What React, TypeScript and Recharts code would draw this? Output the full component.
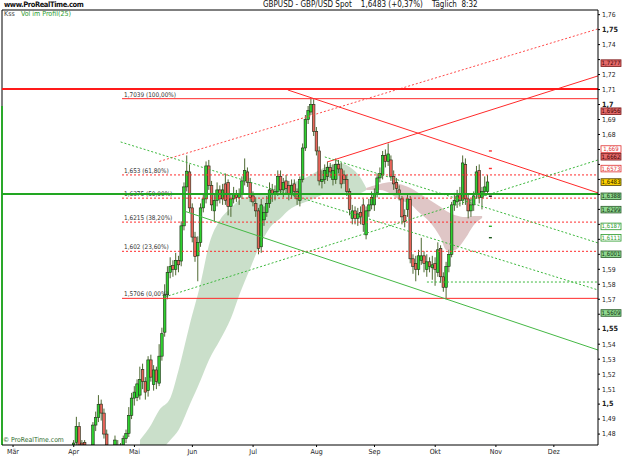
import React from 'react';
import { ComposedChart, Bar, Area, Scatter, XAxis, YAxis, ReferenceLine } from 'recharts';

const FONT = "'Liberation Sans Narrow', 'DejaVu Sans Condensed', 'Liberation Sans', Arial, sans-serif";

// x = trading day counted from Mon 2 Mar 2009, one candle per weekday
const firstDay = 22;
const open = [
  1.462, 1.4745, 1.485, 1.474, 1.4745, 1.46, 1.465, 1.468, 1.486, 1.491,
  1.5, 1.494, 1.48, 1.465, 1.46, 1.46, 1.47, 1.465, 1.47, 1.477,
  1.4805, 1.4925, 1.504, 1.5045, 1.506, 1.523, 1.515, 1.509, 1.5295, 1.513,
  1.5228, 1.514, 1.532, 1.548, 1.573, 1.588, 1.5925, 1.59, 1.596, 1.5955,
  1.619, 1.645, 1.655, 1.631, 1.6115, 1.599, 1.608, 1.631, 1.637, 1.659,
  1.646, 1.629, 1.636, 1.643, 1.637, 1.647, 1.648, 1.632, 1.637, 1.64,
  1.638, 1.64, 1.649, 1.655, 1.648, 1.639, 1.634, 1.629, 1.605, 1.623,
  1.628, 1.634, 1.643, 1.64, 1.642, 1.652, 1.643, 1.649, 1.646, 1.64,
  1.647, 1.642, 1.636, 1.65, 1.671, 1.69, 1.695, 1.7, 1.682, 1.669,
  1.6485, 1.65, 1.652, 1.658, 1.65, 1.65, 1.66, 1.657, 1.653, 1.65,
  1.642, 1.624, 1.629, 1.624, 1.628, 1.633, 1.613, 1.629, 1.633, 1.633,
  1.641, 1.651, 1.653, 1.666, 1.662, 1.663, 1.652, 1.648, 1.643, 1.637,
  1.626, 1.63, 1.6365, 1.597, 1.594, 1.59, 1.596, 1.599, 1.59, 1.595,
  1.591, 1.594, 1.588, 1.604, 1.585, 1.578, 1.592, 1.6, 1.633, 1.635,
  1.64, 1.636, 1.66, 1.637, 1.629, 1.633, 1.64, 1.656, 1.638, 1.642,
  1.642,
];
const high = [
  1.476, 1.4915, 1.488, 1.476, 1.476, 1.47, 1.472, 1.488, 1.495, 1.506,
  1.503, 1.497, 1.483, 1.47, 1.468, 1.479, 1.476, 1.474, 1.479, 1.483,
  1.498, 1.5075, 1.512, 1.5165, 1.525, 1.527, 1.518, 1.532, 1.533, 1.526,
  1.525, 1.54, 1.551, 1.58, 1.592, 1.598, 1.596, 1.601, 1.599, 1.622,
  1.648, 1.666, 1.66, 1.634, 1.615, 1.612, 1.634, 1.64, 1.662, 1.663,
  1.649, 1.64, 1.648, 1.646, 1.647, 1.654, 1.65, 1.64, 1.645, 1.643,
  1.644, 1.652, 1.664, 1.658, 1.651, 1.642, 1.638, 1.631, 1.637, 1.632,
  1.639, 1.648, 1.647, 1.646, 1.656, 1.656, 1.651, 1.653, 1.649, 1.65,
  1.65, 1.644, 1.652, 1.674, 1.693, 1.699, 1.704, 1.7035, 1.685, 1.672,
  1.656, 1.66, 1.662, 1.661, 1.66, 1.664, 1.663, 1.661, 1.656, 1.653,
  1.644, 1.633, 1.632, 1.631, 1.632, 1.637, 1.632, 1.637, 1.642, 1.644,
  1.654, 1.658, 1.669, 1.67, 1.674, 1.666, 1.656, 1.651, 1.646, 1.639,
  1.63, 1.64, 1.639, 1.6, 1.599, 1.603, 1.611, 1.602, 1.6, 1.598,
  1.599, 1.598, 1.608, 1.606, 1.588, 1.595, 1.603, 1.635, 1.641, 1.643,
  1.645, 1.666, 1.664, 1.64, 1.637, 1.642, 1.659, 1.66, 1.645, 1.652,
  1.653,
];
const low = [
  1.458, 1.47, 1.46, 1.46, 1.458, 1.45, 1.455, 1.465, 1.482, 1.488,
  1.489, 1.477, 1.465, 1.45, 1.448, 1.455, 1.46, 1.457, 1.465, 1.474,
  1.478, 1.49, 1.499, 1.502, 1.503, 1.51, 1.503, 1.505, 1.515, 1.509,
  1.51, 1.512, 1.529, 1.545, 1.57, 1.584, 1.585, 1.586, 1.588, 1.592,
  1.616, 1.642, 1.628, 1.608, 1.595, 1.582, 1.605, 1.628, 1.634, 1.643,
  1.629, 1.622, 1.632, 1.634, 1.633, 1.633, 1.626, 1.625, 1.634, 1.635,
  1.633, 1.637, 1.646, 1.645, 1.635, 1.632, 1.625, 1.6, 1.601, 1.619,
  1.625, 1.631, 1.635, 1.636, 1.639, 1.64, 1.638, 1.64, 1.636, 1.637,
  1.638, 1.633, 1.632, 1.648, 1.669, 1.687, 1.693, 1.679, 1.666, 1.646,
  1.644, 1.647, 1.649, 1.651, 1.646, 1.647, 1.654, 1.644, 1.647, 1.639,
  1.626, 1.62, 1.62, 1.619, 1.62, 1.615, 1.61, 1.625, 1.63, 1.629,
  1.638, 1.648, 1.65, 1.658, 1.659, 1.649, 1.643, 1.64, 1.636, 1.62,
  1.618, 1.625, 1.594, 1.587, 1.582, 1.586, 1.593, 1.588, 1.585, 1.588,
  1.583, 1.579, 1.585, 1.581, 1.575, 1.57, 1.588, 1.598, 1.629, 1.631,
  1.632, 1.633, 1.633, 1.624, 1.625, 1.629, 1.637, 1.634, 1.63, 1.639,
  1.64,
];
const close = [
  1.474, 1.485, 1.465, 1.468, 1.47, 1.465, 1.47, 1.486, 1.491, 1.4998,
  1.494, 1.48, 1.472, 1.46, 1.455, 1.476, 1.465, 1.47, 1.477, 1.4805,
  1.4925, 1.504, 1.508, 1.5135, 1.5165, 1.515, 1.508, 1.5295, 1.518, 1.5228,
  1.515, 1.532, 1.547, 1.573, 1.588, 1.592, 1.59, 1.596, 1.593, 1.619,
  1.645, 1.6555, 1.631, 1.6115, 1.5985, 1.608, 1.631, 1.637, 1.659, 1.646,
  1.633, 1.636, 1.643, 1.637, 1.643, 1.636, 1.632, 1.637, 1.64, 1.638,
  1.64, 1.649, 1.656, 1.648, 1.638, 1.635, 1.629, 1.604, 1.633, 1.628,
  1.634, 1.643, 1.64, 1.642, 1.652, 1.643, 1.648, 1.644, 1.64, 1.646,
  1.642, 1.637, 1.65, 1.671, 1.69, 1.696, 1.7, 1.682, 1.669, 1.649,
  1.65, 1.656, 1.658, 1.655, 1.656, 1.66, 1.657, 1.647, 1.65, 1.642,
  1.63, 1.629, 1.624, 1.627, 1.625, 1.62, 1.629, 1.633, 1.638, 1.64,
  1.651, 1.654, 1.666, 1.662, 1.667, 1.652, 1.647, 1.644, 1.64, 1.625,
  1.622, 1.637, 1.597, 1.592, 1.59, 1.599, 1.599, 1.594, 1.595, 1.592,
  1.593, 1.59, 1.603, 1.585, 1.578, 1.592, 1.6, 1.633, 1.636, 1.639,
  1.636, 1.661, 1.637, 1.629, 1.633, 1.639, 1.655, 1.638, 1.642, 1.645,
  1.6483,
];

const monthTicks = [0, 22, 44, 65, 87, 110, 131, 153, 175, 196];
const monthNames = ['Mär', 'Apr', 'Mai', 'Jun', 'Jul', 'Aug', 'Sep', 'Okt', 'Nov', 'Dez'];
const priceTicks = [
  1.48, 1.49, 1.5, 1.51, 1.52, 1.53, 1.54, 1.55, 1.56, 1.57, 1.58, 1.59, 1.6, 1.61, 1.62,
  1.63, 1.64, 1.65, 1.66, 1.67, 1.68, 1.69, 1.7, 1.71, 1.72, 1.73, 1.74, 1.75, 1.76,
];

// Vol im Profil cloud: [day, lower, upper]
const greenCloud = [
  [46, 1.465, 1.4761], [50, 1.465, 1.4861], [53, 1.468, 1.4961], [57, 1.4761, 1.5041],
  [60, 1.4827, 1.5228], [64, 1.4994, 1.5528], [68, 1.5161, 1.5809], [71, 1.5295, 1.6062],
  [75, 1.5428, 1.6229], [79, 1.5575, 1.6309], [82, 1.5729, 1.6363], [86, 1.5909, 1.639],
  [89, 1.6042, 1.6403], [93, 1.6176, 1.641], [97, 1.6243, 1.643], [100, 1.6296, 1.6463],
  [104, 1.6336, 1.6496], [108, 1.6363, 1.653], [111, 1.639, 1.6563], [115, 1.641, 1.6596],
  [118, 1.641, 1.661], [122, 1.6403, 1.6583], [126, 1.641, 1.651], [128, 1.643, 1.6443],
];
const redCloud = [
  [128, 1.643, 1.6443], [133, 1.643, 1.647], [137, 1.6403, 1.6483], [140, 1.6363, 1.647],
  [144, 1.6336, 1.6443], [147, 1.6283, 1.641], [151, 1.6216, 1.6363], [155, 1.6109, 1.6316],
  [157, 1.6029, 1.6289], [160, 1.6029, 1.6263], [164, 1.6109, 1.6249], [167, 1.6196, 1.6256],
  [170, 1.6243, 1.6256],
];

const fibLevels = [1.7039, 1.653, 1.6375, 1.6215, 1.602, 1.5706];
const fibPct = ['100,00%', '61,80%', '50,00%', '38,20%', '23,60%', '0,00%'];
const fibStart = 39.5;

const resistance = 1.7104;
const support = 1.6403;

// drawn trend lines: [day, price] to [day, price]
const trendLines = [
  { from: [53, 1.662], to: [212, 1.7505], kind: 'redDot' },
  { from: [114, 1.6617], to: [212, 1.7191], kind: 'red' },
  { from: [99.6, 1.7097], to: [212, 1.641], kind: 'red' },
  { from: [39, 1.675], to: [212, 1.5762], kind: 'greenDot' },
  { from: [113, 1.665], to: [212, 1.6076], kind: 'greenDot' },
  { from: [55, 1.5715], to: [212, 1.663], kind: 'greenDot' },
  { from: [62, 1.6289], to: [212, 1.5361], kind: 'green' },
  { from: [150, 1.5815], to: [212, 1.5815], kind: 'greenDot' },
];

const priceTags = [
  { v: 1.7277, kind: 'red' }, { v: 1.6956, kind: 'red' }, { v: 1.669, kind: 'redOut' },
  { v: 1.6662, kind: 'red' }, { v: 1.6573, kind: 'redOut' }, { v: 1.6483, kind: 'last' },
  { v: 1.6388, kind: 'green' }, { v: 1.6299, kind: 'green' }, { v: 1.6187, kind: 'greenOut' },
  { v: 1.6111, kind: 'greenOut' }, { v: 1.6001, kind: 'green' }, { v: 1.5609, kind: 'green' },
];
const markDay = 173;
const lastMarks = [
  { v: 1.669, kind: 'red' }, { v: 1.6573, kind: 'red' }, { v: 1.6388, kind: 'black' },
  { v: 1.6187, kind: 'green' }, { v: 1.6111, kind: 'dark' },
];

const X_DOMAIN = [-4, 212];
const Y_DOMAIN = [1.4727, 1.7631];
const PLOT_TOP = 10;
const PLOT_BOTTOM = 445;

const lineStyle: Record<string, any> = {
  red: { stroke: '#ff2a2a', strokeWidth: 1 },
  redDot: { stroke: '#ff4a4a', strokeWidth: 1, strokeDasharray: '2 2' },
  green: { stroke: '#45b845', strokeWidth: 1 },
  greenDot: { stroke: '#3cb83c', strokeWidth: 1, strokeDasharray: '2 2' },
};
const tagStyle: Record<string, any> = {
  red: { fill: '#e46a6a', stroke: '#7a1a1a', text: '#3a0000' },
  redOut: { fill: '#ffffff', stroke: '#e03030', text: '#e03030' },
  last: { fill: '#ffd200', stroke: '#4a3a00', text: '#1a1a00' },
  green: { fill: '#8fd88f', stroke: '#2a5a2a', text: '#0e2e0e' },
  greenOut: { fill: '#ffffff', stroke: '#2a9a2a', text: '#2a9a2a' },
};
const markColor: Record<string, string> = {
  red: '#ff3030', black: '#111111', green: '#30b030', dark: '#1e5a1e',
};

const fmt = (v: number, d = 4) => parseFloat(v.toFixed(d)).toString().replace('.', ',');

const greenMap = new Map(greenCloud.map(([d, lo, hi]) => [d, [lo, hi]]));
const redMap = new Map(redCloud.map(([d, lo, hi]) => [d, [lo, hi]]));
const rows = open.map((o, k) => {
  const i = firstDay + k;
  return {
    i, o, h: high[k], l: low[k], c: close[k],
    g: greenMap.get(i) ?? null,
    r: redMap.get(i) ?? null,
  };
});
const marks = lastMarks.map((m) => ({ i: markDay, v: m.v, kind: m.kind }));

function Candle(props: any) {
  const { x, y, width, height, payload } = props;
  if (!payload || x == null || y == null) return null;
  const { o, h, l, c } = payload;
  const top = Math.min(y, y + height);
  const span = Math.abs(height);
  const per = h === l ? 0 : span / (h - l);
  const clamp = (p: number) => Math.max(PLOT_TOP, Math.min(PLOT_BOTTOM, p));
  const py = (v: number) => clamp(top + (h - v) * per);
  const cx = x + width / 2;
  const up = c >= o;
  const bTop = py(Math.max(o, c));
  const bBot = py(Math.min(o, c));
  if (py(l) <= PLOT_TOP || py(h) >= PLOT_BOTTOM) return null;
  return (
    <g>
      <line x1={cx} x2={cx} y1={py(h)} y2={py(l)} stroke="#4f6a33" strokeWidth={1} />
      <rect
        x={cx - 1.3}
        y={bTop}
        width={2.6}
        height={Math.max(bBot - bTop, 0.8)}
        fill={up ? '#2fd02f' : '#e8645a'}
        stroke="#1c2c14"
        strokeWidth={0.6}
      />
    </g>
  );
}

// tick labels that sit under a price tag are hidden, as in the original
const underTag = (v: number) => priceTags.some((t) => Math.abs(t.v - v) < 0.0036);

function PriceTick(p: any) {
  const v = p.payload.value;
  if (underTag(v)) return null;
  const bold = Math.abs(v * 20 - Math.round(v * 20)) < 1e-6;
  return (
    <text
      x={p.x}
      y={p.y}
      dy={bold ? 2.1 : 2.4}
      fontSize={bold ? 7.2 : 6.8}
      fontWeight={bold ? 'bold' : 'normal'}
      fontFamily={FONT}
      fill="#222"
    >
      {fmt(v, 2)}
    </text>
  );
}

const tagLabel = (tag: { v: number; kind: string }) => (p: any) => {
  const vb = p.viewBox;
  if (!vb) return null;
  const s = tagStyle[tag.kind];
  const x = vb.x + vb.width + 3;
  // nudge apart tags that would sit on top of each other
  const above = priceTags.some((t) => t.v > tag.v && t.v - tag.v < 0.0045);
  const below = priceTags.some((t) => t.v < tag.v && tag.v - t.v < 0.0045);
  const cy = vb.y + (above ? 1.5 : 0) - (below ? 2 : 0);
  return (
    <g>
      <rect x={x} y={cy - 3.2} width={20} height={6.6} fill={s.fill} stroke={s.stroke} strokeWidth={0.8} />
      <text x={x + 10} y={cy + 2.1} textAnchor="middle" fontSize={6} fontFamily={FONT} fill={s.text}>
        {fmt(tag.v)}
      </text>
    </g>
  );
};

const fibLabel = (text: string) => (p: any) => {
  const vb = p.viewBox;
  if (!vb) return null;
  return (
    <text x={vb.x + 2} y={vb.y - 2} fontSize={6.4} fontFamily={FONT} fill="#333">
      {text}
    </text>
  );
};

const MarkShape = (p: any) => (
  <rect x={p.cx - 1.5} y={p.cy - 0.7} width={3} height={1.4} fill={markColor[p.payload.kind]} />
);

const textBase: React.CSSProperties = {
  position: 'absolute',
  fontFamily: FONT,
  whiteSpace: 'pre',
  lineHeight: 1,
};

export default function App() {
  return (
    <div style={{ position: 'absolute', left: 0, top: 0, width: 625, height: 469, background: '#fff' }}>
      <ComposedChart
        width={625}
        height={469}
        data={rows}
        margin={{ top: PLOT_TOP, right: 0, bottom: 0, left: 2 }}
      >
        <XAxis
          dataKey="i"
          type="number"
          domain={X_DOMAIN}
          allowDataOverflow
          ticks={monthTicks}
          interval={0}
          tickFormatter={(v: number) => monthNames[monthTicks.indexOf(v)] ?? ''}
          height={24}
          tickSize={2}
          tickMargin={2}
          tick={{ fontSize: 7, fill: '#222', fontFamily: FONT }}
          axisLine={{ stroke: '#000' }}
          tickLine={{ stroke: '#000' }}
        />
        <YAxis
          orientation="right"
          type="number"
          domain={Y_DOMAIN}
          allowDataOverflow
          ticks={priceTicks}
          interval={0}
          width={27}
          tickSize={2}
          tickMargin={2}
          tick={<PriceTick />}
          axisLine={{ stroke: '#000' }}
          tickLine={{ stroke: '#000' }}
        />

        <Area
          dataKey="g"
          type="monotone"
          connectNulls
          stroke="none"
          fill="#c4dcc4"
          fillOpacity={0.9}
          isAnimationActive={false}
        />
        <Area
          dataKey="r"
          type="monotone"
          connectNulls
          stroke="none"
          fill="#dcc0c0"
          fillOpacity={0.9}
          isAnimationActive={false}
        />

        {/* frame */}
        <ReferenceLine y={Y_DOMAIN[1]} stroke="#000" />
        <ReferenceLine x={X_DOMAIN[0]} stroke="#000" />
        <ReferenceLine
          segment={[{ x: X_DOMAIN[0], y: 1.699 }, { x: X_DOMAIN[0], y: Y_DOMAIN[0] }]}
          stroke="#2aa82a"
          strokeWidth={2}
        />

        {fibLevels.map((lv, k) => (
          <ReferenceLine
            key={`fib-${k}`}
            segment={[{ x: fibStart, y: lv }, { x: X_DOMAIN[1], y: lv }]}
            stroke="#ff2a2a"
            strokeDasharray={k === 0 || k === fibLevels.length - 1 ? undefined : '2 2'}
            label={fibLabel(`${fmt(lv)} (${fibPct[k]})`)}
          />
        ))}

        {trendLines.map((t, k) => (
          <ReferenceLine
            key={`tl-${k}`}
            segment={[{ x: t.from[0], y: t.from[1] }, { x: t.to[0], y: t.to[1] }]}
            ifOverflow="visible"
            {...lineStyle[t.kind]}
          />
        ))}

        <ReferenceLine y={resistance} stroke="#ff1a1a" strokeWidth={2} />
        <ReferenceLine y={support} stroke="#22a622" strokeWidth={2} />

        <Bar
          dataKey={(d: any) => [d.l, d.h]}
          barSize={3}
          shape={(p: any) => <Candle {...p} />}
          isAnimationActive={false}
        />

        <Scatter data={marks} dataKey="v" shape={MarkShape} isAnimationActive={false} />

        {priceTags.map((t, k) => (
          <ReferenceLine key={`tag-${k}`} y={t.v} stroke="none" label={tagLabel(t)} />
        ))}
      </ComposedChart>

      <div style={{ ...textBase, left: 4, top: 1, fontSize: 7.5, fontWeight: 'bold', letterSpacing: -0.4, color: '#111' }}>
        www.ProRealTime.com
      </div>
      <div style={{ ...textBase, left: 263, top: 1, fontSize: 8, color: '#111' }}>
        {'GBPUSD - GBP/USD Spot    1,6483 (+0,37%)    Täglich  8:32'}
      </div>
      <div style={{ ...textBase, left: 4, top: 11, fontSize: 7, color: '#444' }}>Kss</div>
      <div style={{ ...textBase, left: 21, top: 11, fontSize: 7, color: '#2a9a2a' }}>Vol im Profil(25)</div>
      <div style={{ ...textBase, left: 3, top: 437, fontSize: 6.8, color: '#2a6a2a' }}>© ProRealTime.com</div>
    </div>
  );
}
